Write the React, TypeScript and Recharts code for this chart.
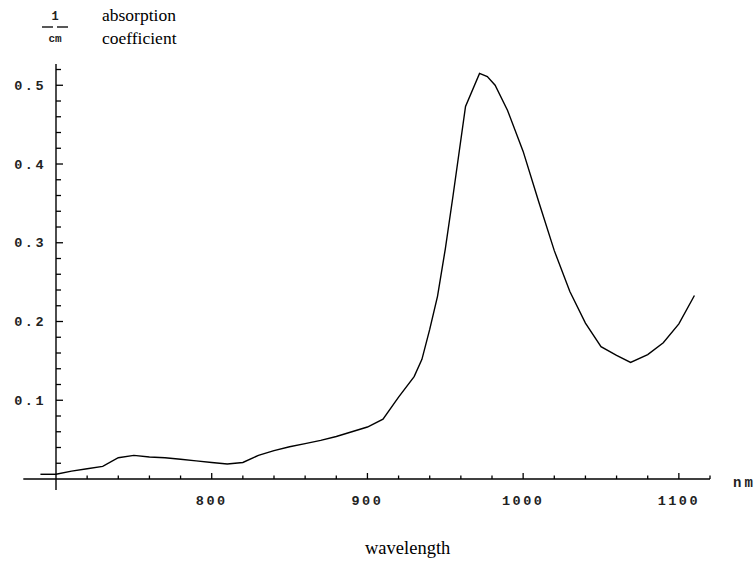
import React from "react";
import { LineChart, Line, XAxis, YAxis, ReferenceLine } from "recharts";

// wavelength (nm) and absorption coefficient (1/cm)
const wavelengths = [
  700, 710, 720, 730, 740, 750, 760, 770, 780, 790, 800, 810, 820, 830, 840,
  850, 860, 870, 880, 890, 900, 910, 920, 930, 935, 940, 945, 950, 955, 963,
  972, 977, 982, 990, 1000, 1010, 1020, 1030, 1040, 1050, 1060, 1069, 1080,
  1090, 1100, 1110,
];
const absorption = [
  0.006, 0.01, 0.013, 0.016, 0.027, 0.03, 0.028, 0.027, 0.025, 0.023, 0.021,
  0.019, 0.021, 0.03, 0.036, 0.041, 0.045, 0.049, 0.054, 0.06, 0.066, 0.076,
  0.104, 0.13, 0.152, 0.19, 0.232, 0.292, 0.36, 0.473, 0.515, 0.511, 0.5,
  0.468, 0.416, 0.352, 0.29, 0.238, 0.198, 0.168, 0.157, 0.148, 0.158, 0.173,
  0.197, 0.233,
];
// the short piece of the curve left of the vertical axis
const leadWavelengths = [690, 700];
const leadAbsorption = [0.006, 0.006];

const xTicks = [
  720, 740, 760, 780, 800, 820, 840, 860, 880, 900, 920, 940, 960, 980, 1000,
  1020, 1040, 1060, 1080, 1100, 1120,
];
const xMajor = [800, 900, 1000, 1100];
const yTicks = [
  0.02, 0.04, 0.06, 0.08, 0.1, 0.12, 0.14, 0.16, 0.18, 0.2, 0.22, 0.24, 0.26,
  0.28, 0.3, 0.32, 0.34, 0.36, 0.38, 0.4, 0.42, 0.44, 0.46, 0.48, 0.5, 0.52,
];
const yMajor = [0.1, 0.2, 0.3, 0.4, 0.5];

const xDomain = [700, 1120];
const yDomain = [0, 0.527];
const xAxisExtent = [679, 1120];
const yAxisExtent = [-0.014, 0.527];

const data = wavelengths.map((wl, i) => ({ wl, a: absorption[i] }));

const MONO = "Liberation Mono, DejaVu Sans Mono, monospace";
const SERIF = "Liberation Serif, Times New Roman, DejaVu Serif, serif";

function XTick(props: any) {
  const { x, y, payload } = props;
  const major = xMajor.some((m) => Math.abs(m - payload.value) < 1e-6);
  return (
    <g>
      <line x1={x} y1={y} x2={x} y2={y - (major ? 6 : 3.5)} stroke="#000" strokeWidth={1.3} />
      {major && (
        <text
          x={x}
          y={y + 21}
          dy="0.35em"
          textAnchor="middle"
          fill="#222"
          fontFamily={MONO}
          fontWeight={700}
          fontSize={13.5}
          letterSpacing={2.5}
        >
          {String(payload.value)}
        </text>
      )}
    </g>
  );
}

function YTick(props: any) {
  const { x, y, payload } = props;
  const major = yMajor.some((m) => Math.abs(m - payload.value) < 1e-6);
  return (
    <g>
      <line x1={x} y1={y} x2={x + (major ? 7 : 5)} y2={y} stroke="#000" strokeWidth={1.3} />
      {major && (
        <text
          x={x - 10}
          y={y}
          dy="0.35em"
          textAnchor="end"
          fill="#222"
          fontFamily={MONO}
          fontWeight={700}
          fontSize={13.5}
          letterSpacing={2.5}
        >
          {Number(payload.value).toFixed(1)}
        </text>
      )}
    </g>
  );
}

export default function App() {
  return (
    <div style={{ position: "absolute", left: 0, top: 0, width: 756, height: 562, background: "#fff" }}>
      <LineChart
        width={756}
        height={562}
        data={data}
        margin={{ top: 64, right: 46, bottom: 82, left: 55 }}
      >
        <XAxis
          type="number"
          dataKey="wl"
          domain={xDomain}
          ticks={xTicks}
          interval={0}
          height={1}
          tickSize={0}
          tickMargin={0}
          axisLine={false}
          tickLine={false}
          tick={XTick}
        />
        <YAxis
          type="number"
          domain={yDomain}
          ticks={yTicks}
          interval={0}
          width={1}
          tickSize={0}
          tickMargin={0}
          axisLine={false}
          tickLine={false}
          tick={YTick}
        />
        <ReferenceLine
          segment={[
            { x: xAxisExtent[0], y: 0 },
            { x: xAxisExtent[1], y: 0 },
          ]}
          ifOverflow="visible"
          stroke="#000"
          strokeWidth={1.4}
        />
        <ReferenceLine
          segment={[
            { x: 700, y: yAxisExtent[0] },
            { x: 700, y: yAxisExtent[1] },
          ]}
          ifOverflow="visible"
          stroke="#000"
          strokeWidth={1.4}
        />
        <ReferenceLine
          segment={[
            { x: leadWavelengths[0], y: leadAbsorption[0] },
            { x: leadWavelengths[1], y: leadAbsorption[1] },
          ]}
          ifOverflow="visible"
          stroke="#000"
          strokeWidth={1.4}
        />
        <Line
          type="linear"
          dataKey="a"
          stroke="#000"
          strokeWidth={1.4}
          dot={false}
          isAnimationActive={false}
        />
        <text x={55} y={20} textAnchor="middle" fill="#222" fontFamily={MONO} fontWeight={700} fontSize={12}>
          1
        </text>
        <line x1={42} y1={27} x2={68} y2={27} stroke="#222" strokeWidth={1.5} strokeDasharray="11 4" />
        <text x={55} y={42} textAnchor="middle" fill="#222" fontFamily={MONO} fontWeight={700} fontSize={11}>
          cm
        </text>
        <text x={102} y={21} fill="#000" fontFamily={SERIF} fontSize={17.5}>absorption</text>
        <text x={102} y={44} fill="#000" fontFamily={SERIF} fontSize={17.5}>coefficient</text>
        <text x={733} y={482} dy="0.35em" fill="#222" fontFamily={MONO} fontWeight={700} fontSize={14} letterSpacing={3}>
          nm
        </text>
        <text x={365} y={554} fill="#000" fontFamily={SERIF} fontSize={18.5}>wavelength</text>
      </LineChart>
    </div>
  );
}
